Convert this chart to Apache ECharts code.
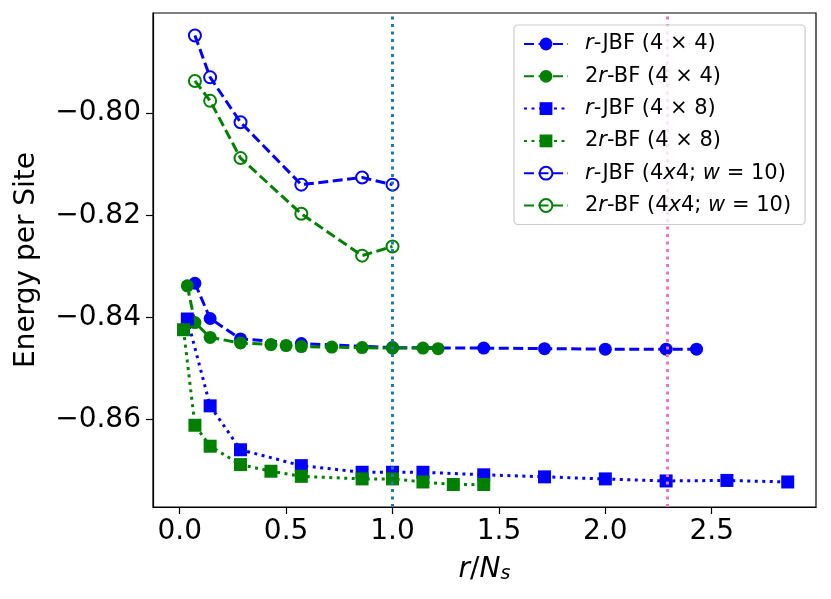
<!DOCTYPE html>
<html>
<head>
<meta charset="utf-8">
<script src="https://cdn.jsdelivr.net/npm/echarts@6/dist/echarts.min.js"></script>
<style>
  html, body {margin: 0; padding: 0; background: #fff;}
  #main {width: 831px; height: 599px;}
</style>
</head>
<body>
<div id="main"></div>
<script>
// values
const xJbf44 = [0.0714, 0.1429, 0.2857, 0.5714, 1.0, 1.4286, 1.7143, 2.0, 2.2857, 2.4286];
const yJbf44 = [-0.8333, -0.8402, -0.8442, -0.8451, -0.8459, -0.8460, -0.8461, -0.8462, -0.8462, -0.8462];

const xBf44 = [0.0357, 0.0714, 0.1429, 0.2857, 0.4286, 0.5, 0.5714, 0.7143, 0.8571, 1.0, 1.1429, 1.2143];
const yBf44 = [-0.8338, -0.8410, -0.8439, -0.8450, -0.8453, -0.8455, -0.8457, -0.8458, -0.8459, -0.8460, -0.8460, -0.8461];

const xJbf48 = [0.0357, 0.1429, 0.2857, 0.5714, 0.8571, 1.0, 1.1429, 1.4286, 1.7143, 2.0, 2.2857, 2.5714, 2.8571];
const yJbf48 = [-0.8403, -0.8573, -0.8659, -0.8690, -0.8703, -0.8703, -0.8703, -0.8708, -0.8712, -0.8716, -0.8720, -0.8719, -0.8722];

const xBf48 = [0.0179, 0.0714, 0.1429, 0.2857, 0.4286, 0.5714, 0.8571, 1.0, 1.1429, 1.2857, 1.4286];
const yBf48 = [-0.8424, -0.8611, -0.8652, -0.8688, -0.8701, -0.8711, -0.8716, -0.8716, -0.8722, -0.8727, -0.8727];

const xW10 = [0.0714, 0.1429, 0.2857, 0.5714, 0.8571, 1.0];
const yJbfW10 = [-0.7848, -0.7930, -0.8018, -0.8140, -0.8126, -0.8140];
const yBfW10 = [-0.7937, -0.7976, -0.8088, -0.8197, -0.8279, -0.8261];

const vLines = [1.0, 2.2857];
const vColors = ['#1f77b4', '#e377c2'];

const xTicks = [0, 0.5, 1.0, 1.5, 2.0, 2.5];
const yTicks = [-0.86, -0.84, -0.82, -0.80];

const names = ['r-JBF (4x4)', '2r-BF (4x4)', 'r-JBF (4x8)', '2r-BF (4x8)', 'r-JBF (4x4; w=10)', '2r-BF (4x4; w=10)'];
const legendLabels = [
    '{i|r}-JBF (4 × 4)',
    '2{i|r}-BF (4 × 4)',
    '{i|r}-JBF (4 × 8)',
    '2{i|r}-BF (4 × 8)',
    '{i|r}-JBF (4{i|x}4; {i|w} = 10)',
    '2{i|r}-BF (4{i|x}4; {i|w} = 10)'
];

const font = 'DejaVu Sans';
const BLUE = '#0000ff';
const GREEN = '#008000';
const dashed = [10, 4.5];
const dotted = [3, 4.5];

const pairs = (xs, ys) => xs.map((x, i) => [x, ys[i]]);

const makeSeries = (name, xs, ys, color, symbol, dash, hollow) => ({
    name: name,
    type: 'line',
    data: pairs(xs, ys),
    z: 3,
    symbol: symbol,
    symbolSize: hollow ? 12 : 13,
    showSymbol: true,
    animation: false,
    lineStyle: {color: color, width: 3, type: dash},
    itemStyle: hollow
        ? {color: 'rgba(255,255,255,0)', borderColor: color, borderWidth: 2}
        : {color: color, borderWidth: 0},
    emphasis: {disabled: true}
});

const series = [
    makeSeries(names[0], xJbf44, yJbf44, BLUE, 'circle', dashed, false),
    makeSeries(names[1], xBf44, yBf44, GREEN, 'circle', dashed, false),
    makeSeries(names[2], xJbf48, yJbf48, BLUE, 'rect', dotted, false),
    makeSeries(names[3], xBf48, yBf48, GREEN, 'rect', dotted, false),
    makeSeries(names[4], xW10, yJbfW10, BLUE, 'circle', dashed, true),
    makeSeries(names[5], xW10, yBfW10, GREEN, 'circle', dashed, true),
    {
        name: 'vlines',
        type: 'line',
        data: [],
        z: 1,
        animation: false,
        markLine: {
            silent: true,
            symbol: 'none',
            label: {show: false},
            animation: false,
            data: vLines.map((v, i) => ({
                xAxis: v,
                lineStyle: {color: vColors[i], width: 3, type: [3, 4.5]}
            }))
        }
    }
];

const chart = echarts.init(document.getElementById('main'));
chart.setOption({
    backgroundColor: '#ffffff',
    animation: false,
    textStyle: {fontFamily: font},
    grid: {left: 153, right: 15, top: 13, bottom: 92, show: true, borderColor: '#000', borderWidth: 1.2, backgroundColor: 'transparent'},
    legend: {
        data: names,
        orient: 'vertical',
        left: 514,
        top: 25,
        padding: [7, 14, 7, 9],
        itemWidth: 44,
        itemHeight: 16,
        itemGap: 8.3,
        backgroundColor: 'rgba(255,255,255,0.8)',
        borderColor: '#cccccc',
        borderWidth: 1.2,
        borderRadius: 4,
        z: 10,
        formatter: name => legendLabels[names.indexOf(name)],
        textStyle: {
            fontFamily: font,
            fontSize: 21,
            color: '#000',
            lineHeight: 24,
            padding: [0, 0, 0, 12],
            rich: {
                i: {fontFamily: font, fontSize: 21, fontStyle: 'italic', color: '#000'}
            }
        }
    },
    xAxis: {
        type: 'value',
        min: -0.1256,
        max: 2.99,
        splitLine: {show: false},
        axisLine: {show: true, onZero: false, lineStyle: {color: '#000', width: 1.2}},
        axisTick: {show: true, length: 7, lineStyle: {color: '#000', width: 1.2}, customValues: xTicks},
        axisLabel: {
            customValues: xTicks,
            fontSize: 28,
            color: '#000',
            margin: 11,
            formatter: v => v.toFixed(1)
        },
        name: '{i|r}/{i|N}{s|s}',
        nameLocation: 'middle',
        nameGap: 48,
        nameTextStyle: {
            fontSize: 28,
            color: '#000',
            rich: {
                i: {fontFamily: font, fontSize: 28, fontStyle: 'italic', color: '#000'},
                s: {fontFamily: font, fontSize: 19, fontStyle: 'italic', color: '#000', verticalAlign: 'bottom', padding: [10, 0, 0, 0]}
            }
        }
    },
    yAxis: {
        type: 'value',
        min: -0.8771,
        max: -0.7804,
        splitLine: {show: false},
        axisLine: {show: true, onZero: false, lineStyle: {color: '#000', width: 1.2}},
        axisTick: {show: true, length: 7, lineStyle: {color: '#000', width: 1.2}, customValues: yTicks},
        axisLabel: {
            customValues: yTicks,
            fontSize: 28,
            color: '#000',
            margin: 12,
            formatter: v => '\u2212' + Math.abs(v).toFixed(2)
        },
        name: 'Energy per Site',
        nameLocation: 'middle',
        nameRotate: 90,
        nameGap: 112,
        nameTextStyle: {fontSize: 28, color: '#000'}
    },
    series: series
});
</script>
</body>
</html>
